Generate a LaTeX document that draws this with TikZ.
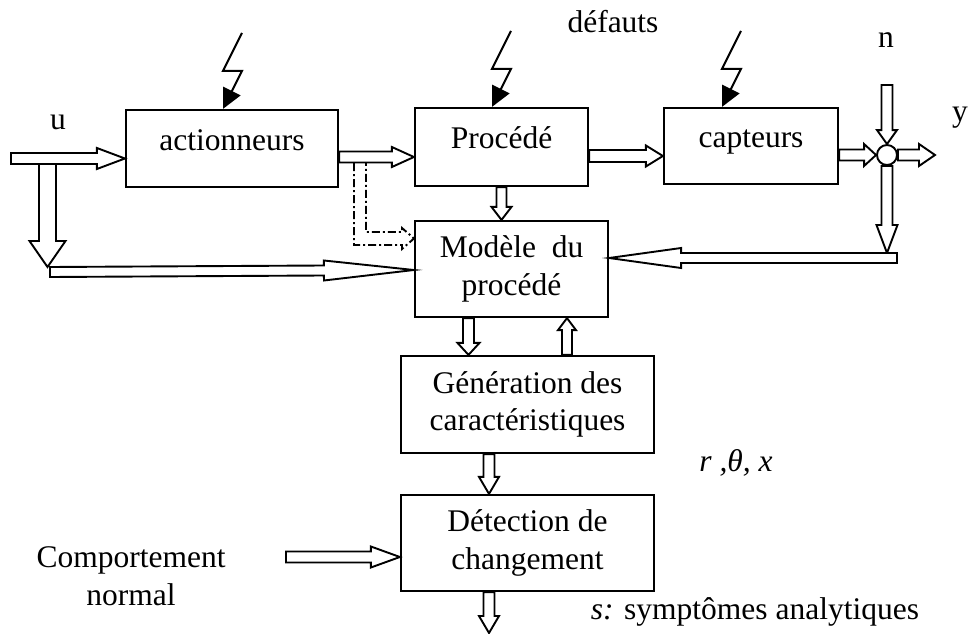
\documentclass[tikz,border=0pt]{standalone}
\usepackage{fontspec}
\setmainfont{Liberation Serif}
\usetikzlibrary{arrows.meta,calc,positioning}
\tikzset{
	box/.style = {
			draw,
			rectangle,
			line width = 2.2pt,
			align      = center,
			inner sep  = 2pt,
		},
	toprow/.style = {
			box,
			text height = 21pt,
			text depth  = 18pt,
		},
	flowline/.style = {draw, line width=1.9pt, fill=white, line join=miter},
	bolt/.style     = {line width=2pt, -{Triangle[length=20pt,width=19pt]}},
	dashflow/.style = {line width=1.9pt, dash pattern=on 8pt off 3pt on 2pt off 3pt}
}
\newcommand{\flowarrow}[6][]{%
	\coordinate (fa) at #2;
	\coordinate (fb) at #3;
	\coordinate (fh) at ($(fb)!#6pt!(fa)$);
	\draw[flowline,#1] ($(fa)!#4pt!90:(fb)$) -- ($(fh)!#4pt!-90:(fa)$) -- ($(fh)!#5pt!-90:(fa)$)
		-- (fb) -- ($(fh)!#5pt!90:(fa)$) -- ($(fh)!#4pt!90:(fa)$) -- ($(fa)!#4pt!-90:(fb)$) -- cycle;
}
\newcommand{\faultbolt}[1]{%
	\coordinate (ft) at #1;
	\draw[bolt] ($(ft)+(19,-76)$) -- ++(-19,38) -- ++(19,0) -- (ft);
}
\begin{document}
\begin{tikzpicture}[x=1pt, y=-1pt, font=\fontsize{31.5}{37.5}\selectfont]
    \useasboundingbox (0,0) rectangle (969,634);

    \node[toprow, minimum width=212pt, minimum height=77pt] (act) at (232,148.5) {actionneurs};
    \node[toprow, minimum width=173pt, minimum height=78pt] (proc) at (501.5,147) {Procédé};
    \node[toprow, minimum width=174pt, minimum height=76pt] (cap) at (751,146) {capteurs};
    \node[box, minimum width=193pt, minimum height=96pt] (model) at (511.5,269) {Modèle~ du\\procédé};
    \node[box, minimum width=253pt, minimum height=97pt] (gen) at (527.5,404.5) {Génération des\\caractéristiques};
    \node[box, minimum width=253pt, minimum height=96pt] (det) at (527.5,543) {Détection de\\changement};
    \node[circle, draw, line width=1.9pt, minimum size=20pt, inner sep=0pt] (sum) at (887,155) {};

    \node (u) at (58,122) {u};
    \node (defauts) at (613,22) {défauts};
    \node (n) at (886,40) {n};
    \node (y) at (960,118) {y};
    \node (rtx) at (736,463) {\textit{r ,θ, x}};
    \node (symp) at (755,612) {\textit{s:} symptômes analytiques};
    \node[align=center] (comp) at (131,576) {Comportement\\normal};

    \coordinate (uin) at (11,158.5);
    \coordinate (ubranch) at (47.5,164);
    \coordinate (ufb) at (47.5,267);
    \coordinate (ubar) at (50,272);
    \coordinate (nin) at (887,85);
    \coordinate (yout) at (935,155);
    \coordinate (yfb) at (887,253);
    \coordinate (ybar) at (897,258);
    \coordinate (mg) at ([xshift=-43pt]model.south);
    \coordinate (gm) at ([xshift=39.5pt]gen.north);
    \coordinate (gd) at ([xshift=-38.5pt]gen.south);
    \coordinate (dout) at ([xshift=-38.5pt]det.south);
    \coordinate (symout) at (489,633);
    \coordinate (normin) at (286,557);
    \coordinate (tap) at (354,163);

    \flowarrow{(uin)}{([yshift=-10pt]act.west)}{5.5}{10.5}{28}
    \flowarrow{(ubranch)}{(ufb)}{8.5}{18}{26}
    \flowarrow{(ubar)}{([yshift=-1pt]model.west)}{5}{10}{90}
    \flowarrow{([yshift=-8.5pt]act.east)}{([yshift=-10pt]proc.west)}{5.5}{10}{22}
    \flowarrow{([yshift=-9pt]proc.east)}{([yshift=-10pt]cap.west)}{6}{10.5}{17}
    \flowarrow{([yshift=-9pt]cap.east)}{(sum.west)}{5.5}{11}{12}
    \flowarrow{(nin)}{(sum.north)}{5.5}{10}{14}
    \flowarrow{(sum.east)}{(yout)}{5.5}{11}{16}
    \flowarrow{(sum.south)}{(yfb)}{5.5}{10.5}{28}
    \flowarrow{(ybar)}{([yshift=11pt]model.east)}{5}{10}{72}
    \flowarrow{(proc.south)}{(proc.south |- model.north)}{5}{10}{13}
    \flowarrow{(mg)}{(mg |- gen.north)}{5.5}{11}{12}
    \flowarrow{(gm)}{(gm |- model.south)}{5}{9}{12}
    \flowarrow{(gd)}{(gd |- det.north)}{5.5}{10}{17}
    \flowarrow{(dout)}{(symout)}{5.5}{10}{17}
    \flowarrow{(normin)}{([yshift=-14pt]det.west)}{5.5}{10.5}{29}

    \draw[dashflow] (tap) -- ++(0,82) -- ++(48,0) -- ++(0,4) -- ++(12,-10.5) -- ++(-12,-10.5)
      -- ++(0,4) -- ++(-36,0) -- ++(0,-69);

    \faultbolt{([xshift=-9pt]act.north)}
    \faultbolt{([xshift=-9.5pt]proc.north)}
    \faultbolt{([xshift=-29pt]cap.north)}
\end{tikzpicture}
\end{document}
